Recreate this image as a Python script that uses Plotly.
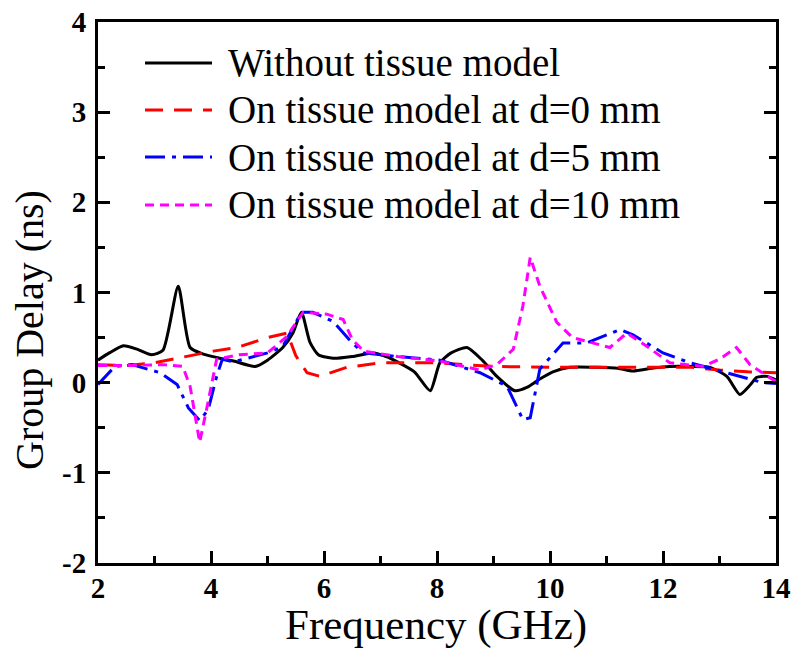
import plotly.graph_objects as go

# ---- data ----
x_without = [2.0, 2.2, 2.45, 2.7, 2.95, 3.15, 3.42, 3.63, 3.85, 4.1, 4.4, 4.78, 5.0, 5.27, 5.45, 5.6, 5.75,
             5.9, 6.16, 6.5, 6.87, 7.1, 7.3, 7.6, 7.88, 8.05, 8.25, 8.53, 8.8, 9.06, 9.38, 9.6, 9.82,
             10.05, 10.35, 10.83, 11.2, 11.47, 11.8, 12.12, 12.5, 12.83, 13.13, 13.36, 13.55, 13.66, 13.84, 14.0]
y_without = [0.25, 0.33, 0.41, 0.37, 0.31, 0.36, 1.07, 0.39, 0.32, 0.28, 0.24, 0.18, 0.25, 0.39, 0.55, 0.78, 0.45,
             0.31, 0.27, 0.29, 0.33, 0.29, 0.23, 0.12, -0.09, 0.22, 0.33, 0.39, 0.25, 0.07, -0.09, -0.05, 0.04,
             0.12, 0.17, 0.17, 0.16, 0.13, 0.16, 0.18, 0.18, 0.17, 0.07, -0.13, -0.02, 0.06, 0.07, 0.03]

x_d0 = [2.0, 2.5, 3.0, 3.33, 3.7, 4.04, 4.46, 5.0, 5.35, 5.5, 5.7, 5.93, 6.4, 7.0, 8.0, 9.0, 10.0, 11.0,
        12.0, 12.5, 13.0, 13.5, 14.0]
y_d0 = [0.2, 0.19, 0.22, 0.26, 0.31, 0.35, 0.39, 0.5, 0.55, 0.3, 0.11, 0.07, 0.17, 0.22, 0.22, 0.18, 0.17, 0.17,
        0.17, 0.17, 0.14, 0.12, 0.11]

x_d5 = [2.0, 2.3, 2.6, 3.1, 3.4, 3.6, 3.8, 3.95, 4.1, 4.2, 4.4, 5.0, 5.27, 5.6, 5.8, 6.16, 6.5, 6.7, 7.3, 8.05,
        8.76, 9.24, 9.52, 9.65, 9.82, 10.23, 10.65, 11.24, 11.47, 12.0, 12.48, 13.06, 13.77, 14.0]
y_d5 = [-0.02, 0.18, 0.2, 0.11, -0.02, -0.28, -0.42, -0.3, 0.07, 0.26, 0.23, 0.33, 0.4, 0.78, 0.78, 0.68, 0.44,
        0.33, 0.29, 0.25, 0.11, -0.04, -0.41, -0.39, 0.15, 0.44, 0.44, 0.59, 0.53, 0.33, 0.22, 0.12, 0.0, -0.01]

x_d10 = [2.0, 2.5, 3.15, 3.5, 3.63, 3.8, 3.93, 4.1, 4.5, 5.0, 5.34, 5.63, 6.05, 6.34, 6.5, 6.7, 7.3, 8.05,
         8.76, 9.06, 9.35, 9.52, 9.65, 9.82, 10.12, 10.4, 11.06, 11.36, 11.72, 12.12, 12.7, 13.0, 13.3, 13.54,
         13.95, 14.0]
y_d10 = [0.19, 0.19, 0.2, 0.18, -0.04, -0.66, -0.27, 0.26, 0.31, 0.33, 0.51, 0.78, 0.76, 0.7, 0.48, 0.35, 0.29,
         0.24, 0.14, 0.2, 0.37, 0.85, 1.39, 1.07, 0.67, 0.5, 0.39, 0.55, 0.4, 0.22, 0.18, 0.26, 0.39, 0.2,
         0.03, 0.02]

names = ["Without tissue model", "On tissue model at d=0 mm",
         "On tissue model at d=5 mm", "On tissue model at d=10 mm"]
colors = ["#000000", "#ff0000", "#0000ff", "#ff00ff"]
dashes = ["solid", "18px,11px", "20px,7px,4px,7px", "9px,6px"]

x_ticks = [2, 4, 6, 8, 10, 12, 14]
y_ticks = [-2, -1, 0, 1, 2, 3, 4]

FONT = "Liberation Serif"

fig = go.Figure()
series = [(x_without, y_without), (x_d0, y_d0), (x_d5, y_d5), (x_d10, y_d10)]
for i, (xs, ys) in enumerate(series):
    shape = "spline" if i == 0 else "linear"
    fig.add_trace(go.Scatter(x=xs, y=ys, mode="lines", name=names[i], showlegend=False,
                             line=dict(color=colors[i], width=3, dash=dashes[i], shape=shape,
                                       smoothing=0.6 if i == 0 else None)))

# Manual legend (long sample lines like the original)
L, R, T, B = 98, 776, 22, 563
W, H = R - L, B - T
rows = [63, 110, 157, 205]
for i, py in enumerate(rows):
    yp = (B - py) / H
    fig.add_shape(type="line", xref="paper", yref="paper",
                  x0=(145 - L) / W, x1=(212 - L) / W, y0=yp, y1=yp,
                  line=dict(color=colors[i], width=3, dash=dashes[i]))
    fig.add_annotation(xref="paper", yref="paper", x=(226 - L) / W, y=yp, text=names[i],
                       showarrow=False, xanchor="left", yanchor="middle",
                       font=dict(family=FONT, size=39, color="black"))

# Axis titles
fig.add_annotation(xref="paper", yref="paper", x=(436 - L) / W, y=(B - 625) / H,
                   text="Frequency (GHz)", showarrow=False, xanchor="center", yanchor="middle",
                   font=dict(family=FONT, size=43, color="black"))
fig.add_annotation(xref="paper", yref="paper", x=(29 - L) / W, y=(B - 330) / H,
                   text="Group Delay (ns)", showarrow=False, textangle=-90, xanchor="center",
                   yanchor="middle", font=dict(family=FONT, size=40, color="black"))

fig.update_layout(
    width=792, height=654,
    margin=dict(l=L, r=792 - R, t=T, b=654 - B, autoexpand=False),
    paper_bgcolor="white", plot_bgcolor="white",
    font=dict(family=FONT, color="black"),
)
fig.update_xaxes(range=[2, 14], tickvals=x_ticks, ticktext=[str(v) for v in x_ticks],
                 automargin=False,
                 showgrid=False, zeroline=False, showline=True, linecolor="black", linewidth=3,
                 mirror=True, ticks="inside", ticklen=12, tickwidth=3, tickcolor="black",
                 tickfont=dict(family=FONT, size=29, color="black", weight="bold"),
                 ticklabelstandoff=-3,
                 minor=dict(ticks="inside", ticklen=7, tickwidth=3, tickcolor="black", dtick=1, showgrid=False))
fig.update_yaxes(range=[-2, 4], tickvals=y_ticks, ticktext=[str(v) for v in y_ticks],
                 automargin=False,
                 showgrid=False, zeroline=False, showline=True, linecolor="black", linewidth=3,
                 mirror="ticks", ticks="inside", ticklen=12, tickwidth=3, tickcolor="black",
                 tickfont=dict(family=FONT, size=29, color="black", weight="bold"),
                 ticklabelstandoff=3,
                 minor=dict(ticks="inside", ticklen=7, tickwidth=3, tickcolor="black", dtick=0.5, showgrid=False))

fig.write_html("out.html")
